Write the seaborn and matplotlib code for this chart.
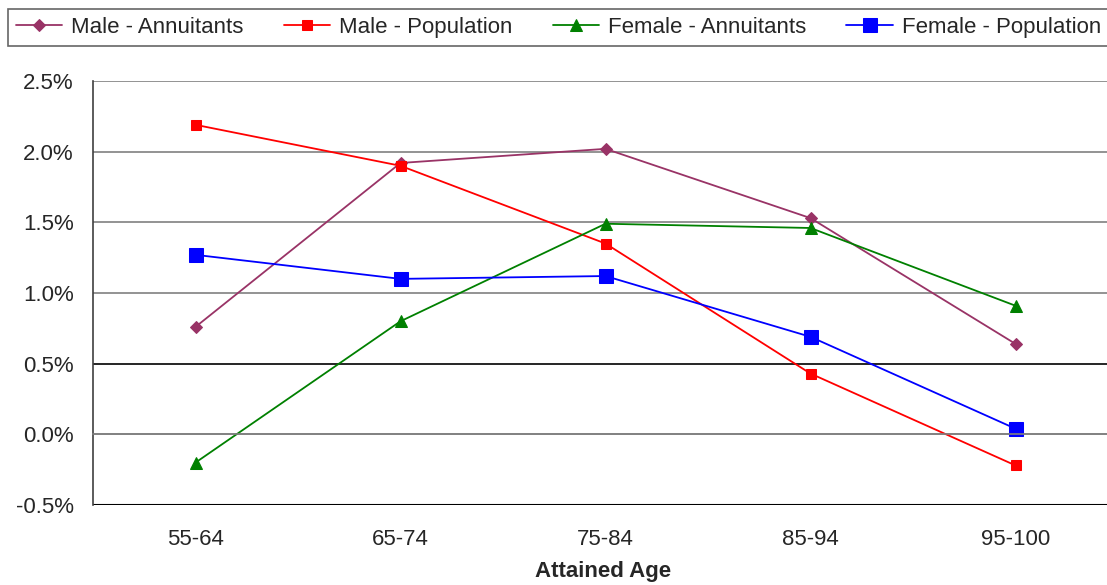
import matplotlib
matplotlib.use("Agg")
import matplotlib.pyplot as plt
import seaborn as sns
import pandas as pd
from matplotlib.ticker import FuncFormatter, FixedLocator

# data (percent)
ages = ["55-64", "65-74", "75-84", "85-94", "95-100"]
male_annuitants = [0.76, 1.92, 2.02, 1.53, 0.64]
male_population = [2.19, 1.90, 1.35, 0.43, -0.22]
female_annuitants = [-0.20, 0.80, 1.49, 1.46, 0.91]
female_population = [1.27, 1.10, 1.12, 0.69, 0.04]

series = {
    "Male - Annuitants": male_annuitants,
    "Male - Population": male_population,
    "Female - Annuitants": female_annuitants,
    "Female - Population": female_population,
}
styles = {
    "Male - Annuitants": dict(color="#993366", marker="D", markersize=6),
    "Male - Population": dict(color="#ff0000", marker="s", markersize=6.5),
    "Female - Annuitants": dict(color="#008000", marker="^", markersize=9),
    "Female - Population": dict(color="#0000ff", marker="s", markersize=10.5),
}

rows = []
for name, vals in series.items():
    for i, v in enumerate(vals):
        rows.append({"series": name, "pos": i, "value": v})
df = pd.DataFrame(rows)

sns.set_style("white")
plt.rcParams["font.family"] = ["Liberation Sans", "DejaVu Sans"]
FS = 16

fig = plt.figure(figsize=(11.07, 5.85), dpi=100)
ax = fig.add_axes([93 / 1107, 1 - 505 / 585, 1025 / 1107, 424 / 585])

for name in series:
    st = styles[name]
    sns.lineplot(data=df[df["series"] == name], x="pos", y="value", ax=ax,
                 color=st["color"], marker=st["marker"], markersize=st["markersize"],
                 markeredgecolor=st["color"], linewidth=1.3, label=name)

ax.set_xlim(-0.5, 4.5)
ax.set_ylim(-0.5, 2.5)
ax.set_yticks([-0.5, 0, 0.5, 1.0, 1.5, 2.0, 2.5])
ax.yaxis.set_major_formatter(FuncFormatter(lambda v, p: f"{v:.1f}%"))
for y in [0, 0.5, 1.0, 1.5, 2.0, 2.5]:
    ax.axhline(y, color="#000000" if y == 0.5 else "#808080", linewidth=1.2, zorder=0)

for s in ["top", "right"]:
    ax.spines[s].set_visible(False)
ax.spines["left"].set_color("#404040")
ax.spines["left"].set_linewidth(1.2)
ax.spines["bottom"].set_position(("data", 0))
ax.spines["bottom"].set_color("#808080")
ax.spines["bottom"].set_linewidth(1.2)

ax.set_xticks(range(len(ages)))
ax.set_xticklabels(ages)
ax.xaxis.set_minor_locator(FixedLocator([0.5, 1.5, 2.5, 3.5]))
ax.tick_params(axis="x", which="major", length=0, pad=68, labelsize=FS)
ax.tick_params(axis="x", which="minor", length=5, width=1, color="#404040", direction="out")
ax.tick_params(axis="y", which="major", length=6, width=1, color="#404040",
               direction="out", labelsize=FS, pad=8)

# bottom gridline at -0.5
ax.axhline(-0.5, color="#000000", linewidth=1.5, zorder=0)

ax.set_xlabel("")
ax.set_ylabel("")
fig.text(603 / 1107, 1 - 572 / 585, "Attained Age", ha="center",
         va="center", fontsize=FS, fontweight="bold")

leg = ax.legend(loc="upper left", bbox_to_anchor=(8 / 1107, 1 - 9 / 585),
                bbox_transform=fig.transFigure, ncol=4, frameon=True, fancybox=False,
                fontsize=FS, handlelength=2.1, handletextpad=0.4, columnspacing=1.8,
                borderpad=0.35, borderaxespad=0)
leg.get_frame().set_edgecolor("#404040")
leg.get_frame().set_linewidth(1.2)

fig.savefig("out.png", dpi=100)
